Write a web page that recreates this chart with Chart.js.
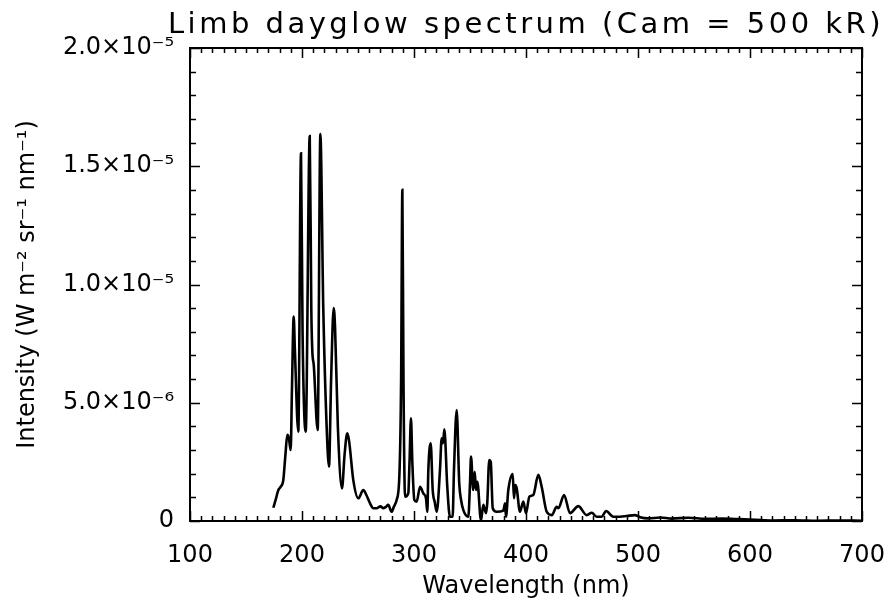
<!DOCTYPE html>
<html>
<head>
<meta charset="utf-8">
<script src="https://cdn.jsdelivr.net/npm/chart.js@4"></script>
<style>
  html, body { margin: 0; padding: 0; background: #fff; }
  canvas { display: block; }
</style>
</head>
<body>
<canvas id="chart" width="889" height="607"></canvas>
<script>
// wavelength (nm) and limb intensity, the latter in units of 1e-6 W m^-2 sr^-1 nm^-1
const wavelength = [
  174.4, 176.5, 178.9, 181, 183.3, 185.2, 186.9, 188.3, 189.9, 191,
  192.6, 193.6, 196.7, 199.1, 200.5, 203.3, 206.9, 208.3, 209.2, 210.5,
  214, 216.4, 219, 222, 224.1, 226, 228.3, 229.5, 232, 235.7,
  238, 240.4, 242, 245.8, 250.3, 254.7, 257.5, 260.7, 263.7, 266.7,
  270, 272.6, 275, 277, 280, 282, 284.5, 286.9, 288.5, 289.6,
  290.6, 292, 294.9, 296, 297.3, 298.5, 300.3, 302.4, 305.4, 308.3,
  310.7, 311.9, 312.8, 314.9, 316.7, 318.5, 320.3, 323.2, 324.7, 325.9,
  327.1, 329.7, 332.1, 334.5, 335.7, 338.1, 340.4, 342, 344, 348.5,
  350, 350.9, 352.9, 354.2, 355.4, 356.5, 359.8, 361.9, 364.3, 365.4,
  367.2, 368.5, 370.3, 373.8, 379.7, 381.3, 382.1, 384.2, 388.1, 389.3,
  390.4, 391.7, 394.6, 397.6, 400, 403, 406.5, 411, 414, 418.5,
  423, 427.4, 428.9, 434, 439.3, 446.7, 454.2, 458.7, 463.1, 467.6,
  471.4, 478, 484, 489.9, 497.3, 501.8, 509.2, 520, 530, 545,
  560, 575, 590, 605, 620, 640, 660, 680, 700
];
const intensityE6 = [
  0.56, 0.9, 1.31, 1.45, 1.73, 2.8, 3.64, 3.5, 3.0, 5.5,
  8.64, 7.3, 3.78, 15.55, 8.0, 3.78, 16.28, 9.0, 7.2, 6.6,
  3.85, 16.36, 9.0, 4.0, 2.3, 6.0, 9.0, 8.2, 4.0, 1.38,
  2.8, 3.71, 3.4, 1.73, 0.96, 1.31, 1.1, 0.75, 0.54, 0.54,
  0.62, 0.54, 0.6, 0.68, 0.39, 0.6, 0.89, 1.87, 6.0, 14.0,
  6.0, 1.03, 1.17, 2.5, 4.34, 2.5, 0.89, 0.82, 1.45, 1.17,
  0.96, 0.39, 2.16, 3.29, 1.31, 0.8, 0.39, 2.16, 3.5, 3.29,
  3.88, 1.45, 0.18, 0.18, 2.16, 4.69, 1.59, 0.9, 0.47, 0.18,
  1.59, 2.72, 1.31, 2.08, 1.31, 1.66, 0.04, 0.68, 0.33, 0.75,
  2.58, 2.51, 0.54, 0.39, 0.44, 0.75, 0.18, 1.31, 1.99, 0.96,
  1.52, 1.38, 0.39, 0.82, 0.33, 1.03, 1.1, 1.95, 1.45, 0.39,
  0.25, 0.6, 0.54, 1.1, 0.33, 0.63, 0.25, 0.35, 0.18, 0.18,
  0.42, 0.18, 0.18, 0.21, 0.25, 0.16, 0.11, 0.15, 0.1, 0.14,
  0.09, 0.1, 0.08, 0.05, 0.02, 0.03, 0.01, 0.02, 0.01
];

const titleText = "Limb dayglow spectrum (Cam = 500 kR)";
const xTitle = "Wavelength (nm)";
const yTitle = "Intensity (W m\u207B\u00B2 sr\u207B\u00B9 nm\u207B\u00B9)";
const FONT = '"DejaVu Sans", sans-serif';

const supers = { "-": "\u207B", "0": "\u2070", "1": "\u00B9", "2": "\u00B2", "3": "\u00B3",
  "4": "\u2074", "5": "\u2075", "6": "\u2076", "7": "\u2077", "8": "\u2078", "9": "\u2079" };

// IDL style label: 1.5x10^-5
function sciLabel(v) {
  if (Math.abs(v) < 1e-12) return "0";
  const [m, e] = v.toExponential(1).split("e");
  const exp = String(parseInt(e, 10)).split("").map(c => supers[c]).join("");
  return m + "\u00D710" + exp;
}

const points = wavelength.map((w, i) => ({ x: w, y: intensityE6[i] * 1e-6 }));

// frame, inward major/minor ticks on all four sides, and the title
const idlFrame = {
  id: "idlFrame",
  afterDraw(chart) {
    const { ctx, chartArea: a, scales } = chart;
    const xs = scales.x, ys = scales.y;
    ctx.save();
    ctx.strokeStyle = "#000";
    ctx.lineWidth = 1.5;
    ctx.beginPath();
    for (let w = 100; w <= 700; w += 10) {
      const px = Math.round(xs.getPixelForValue(w)) + 0.5;
      const len = w % 100 === 0 ? 10 : 5;
      ctx.moveTo(px, a.bottom); ctx.lineTo(px, a.bottom - len);
      ctx.moveTo(px, a.top); ctx.lineTo(px, a.top + len);
    }
    for (let i = 0; i <= 20; i++) {
      const py = Math.round(ys.getPixelForValue(i * 1e-6)) + 0.5;
      const len = i % 5 === 0 ? 10 : 6;
      ctx.moveTo(a.left, py); ctx.lineTo(a.left + len, py);
      ctx.moveTo(a.right, py); ctx.lineTo(a.right - len, py);
    }
    ctx.stroke();
    ctx.lineWidth = 2;
    ctx.strokeRect(a.left, a.top, a.right - a.left, a.bottom - a.top);

    ctx.fillStyle = "#000";
    ctx.font = "29px " + FONT;
    ctx.textAlign = "center";
    ctx.textBaseline = "alphabetic";
    ctx.letterSpacing = "3.5px";
    ctx.fillText(titleText, (a.left + a.right) / 2, 33);
    ctx.restore();
  }
};

new Chart(document.getElementById("chart"), {
  type: "line",
  data: {
    datasets: [{
      data: points,
      borderColor: "#000",
      borderWidth: 2.6,
      pointRadius: 0,
      cubicInterpolationMode: "monotone",
      fill: false
    }]
  },
  options: {
    responsive: false,
    animation: false,
    devicePixelRatio: 1,
    layout: { padding: { top: 48, right: 27, left: 0, bottom: 0 } },
    plugins: { legend: { display: false }, tooltip: { enabled: false } },
    scales: {
      x: {
        type: "linear",
        min: 100,
        max: 700,
        grid: { display: false },
        border: { display: false },
        ticks: { stepSize: 100, padding: 12, color: "#000", font: { family: FONT, size: 24 } },
        title: { display: true, text: xTitle, color: "#000", font: { family: FONT, size: 24 }, padding: { top: 0, bottom: 6 } },
        afterFit(scale) {
          scale.height = 86;
          scale.paddingLeft = 0;
          scale.paddingRight = 0;
        }
      },
      y: {
        type: "linear",
        min: 0,
        max: 2e-5,
        grid: { display: false },
        border: { display: false },
        ticks: {
          stepSize: 5e-6,
          padding: 8,
          color: "#000",
          font: { family: FONT, size: 24 },
          callback: (v) => sciLabel(v)
        },
        title: { display: true, text: yTitle, color: "#000", font: { family: FONT, size: 24 }, padding: { top: 13, bottom: 0 } },
        afterFit(scale) {
          scale.width = 190;
          scale.paddingTop = 0;
          scale.paddingBottom = 0;
        }
      }
    }
  },
  plugins: [idlFrame]
});
</script>
</body>
</html>
